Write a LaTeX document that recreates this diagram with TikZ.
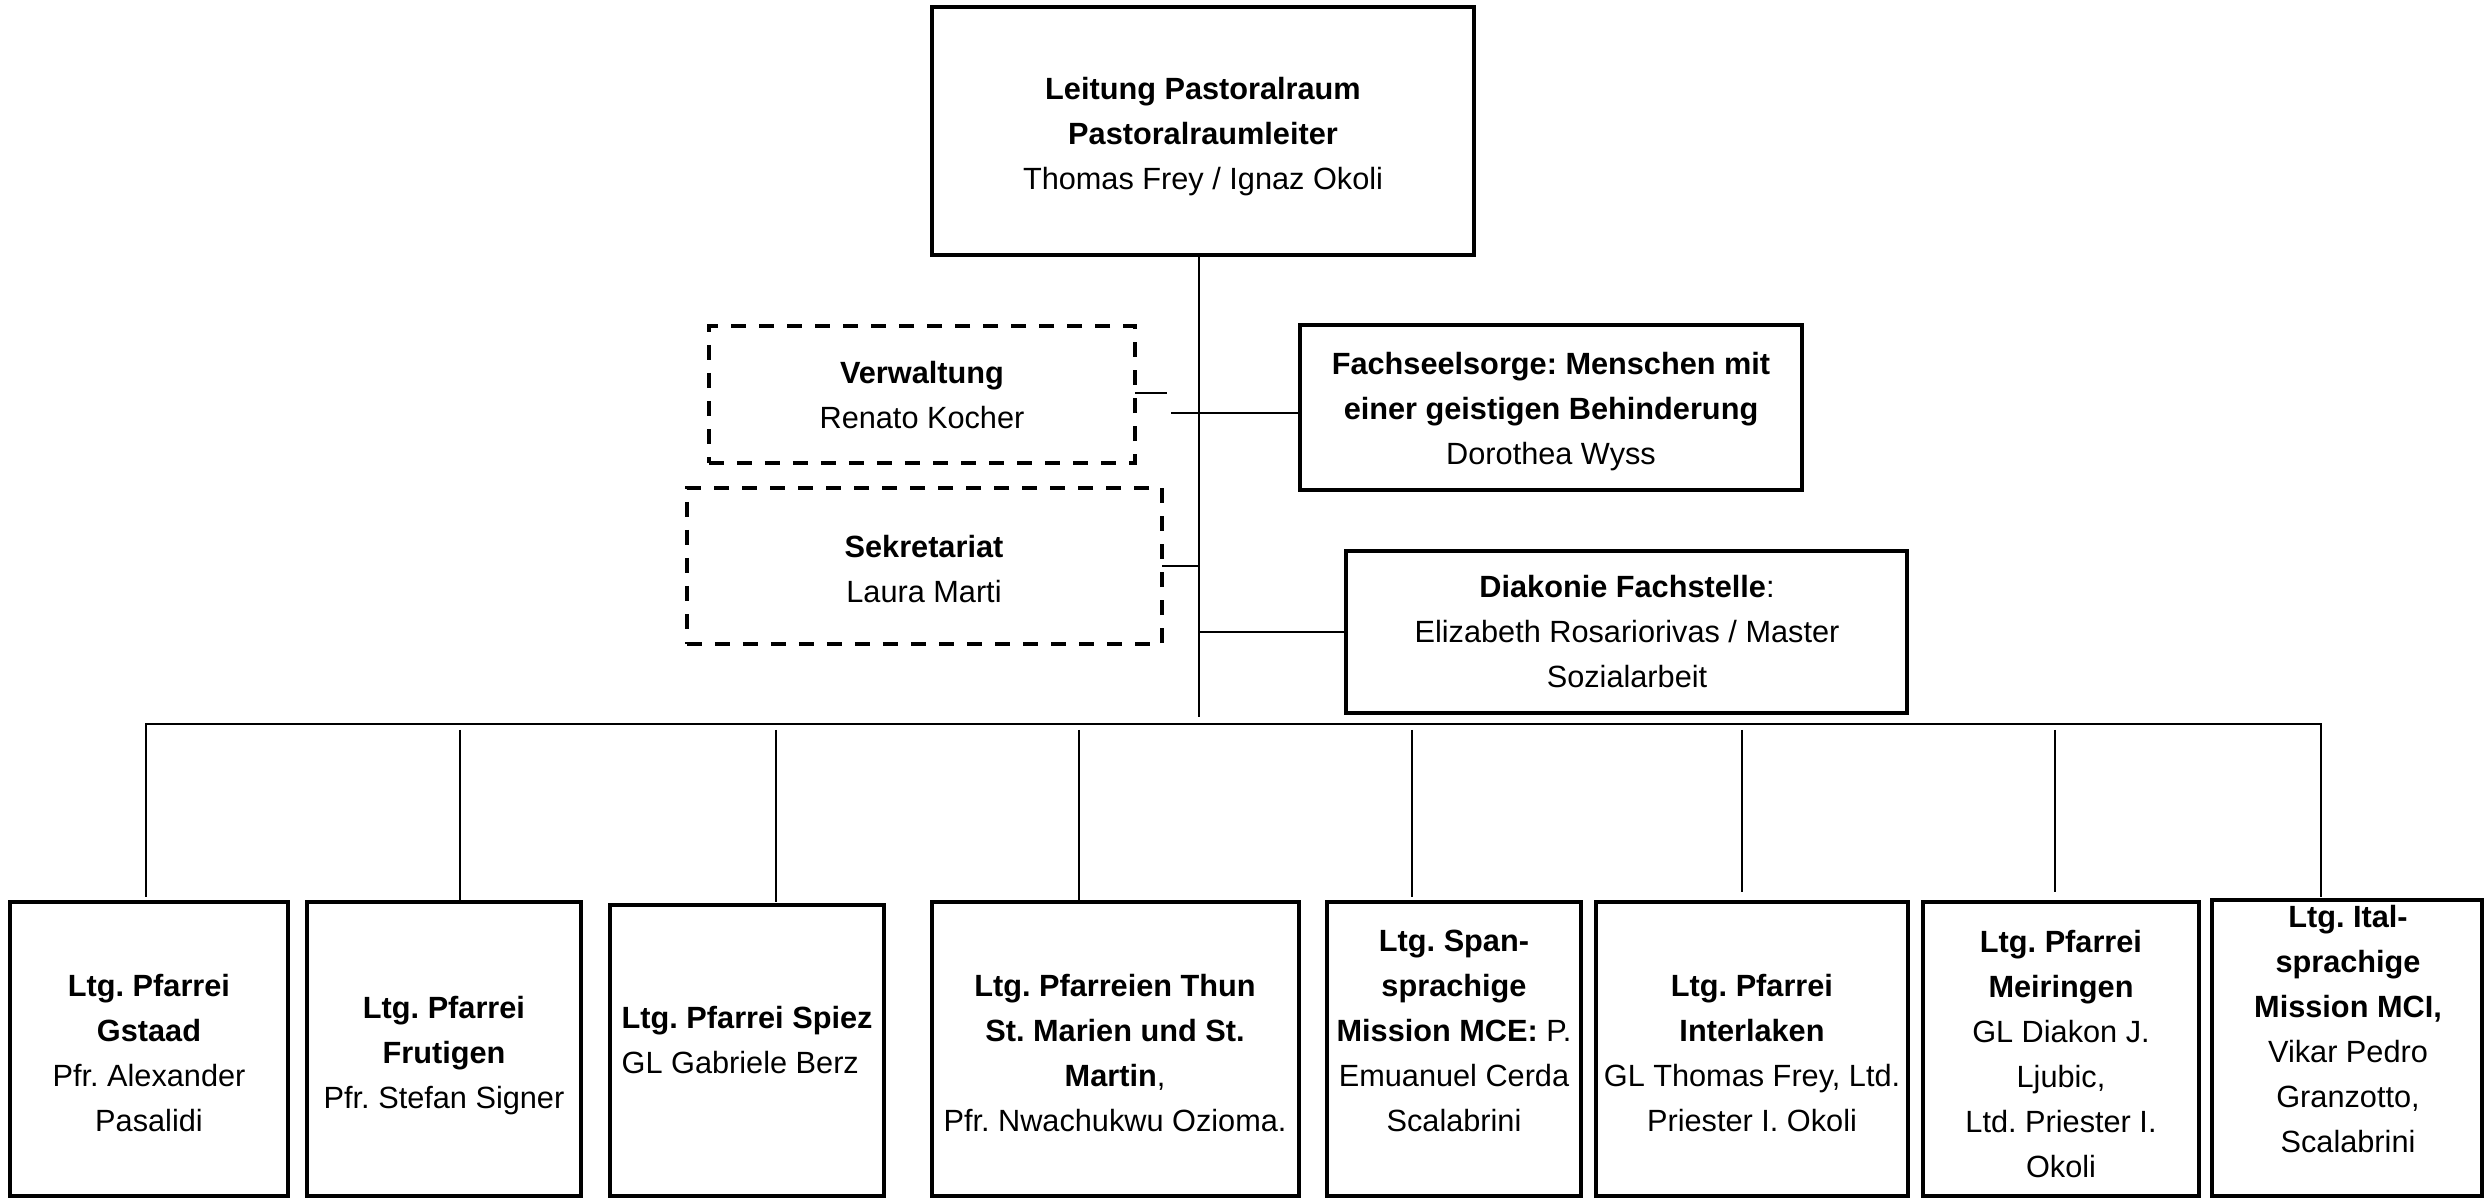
\documentclass[tikz,border=0pt]{standalone}
\usepackage{fontspec}
\setmainfont{Liberation Sans}
\frenchspacing
\begin{document}
\begin{tikzpicture}[x=0.01cm,y=-0.01cm,
  sbox/.style={draw=black, line width=0.034cm, inner sep=0pt, outer sep=0pt},
  dbox/.style={draw=black, line width=0.04cm, dash pattern=on 0.15cm off 0.13cm, inner sep=0pt, outer sep=0pt},
  conn/.style={draw=black, line width=0.022cm},
  txt/.style={font=\fontsize{8.73}{12.8}\selectfont, align=center, anchor=base, inner sep=0pt},
]
\useasboundingbox (0,0) rectangle (2484,1198);

% boxes
\node[sbox, minimum width=5.42cm, minimum height=2.48cm] (top) at (1203,131) {};
\node[dbox, minimum width=4.26cm, minimum height=1.37cm] (verw) at (922,394.5) {};
\node[sbox, minimum width=5.02cm, minimum height=1.65cm] (fach) at (1551,407.5) {};
\node[dbox, minimum width=4.75cm, minimum height=1.56cm] (sek) at (924.5,566) {};
\node[sbox, minimum width=5.61cm, minimum height=1.62cm] (diak) at (1626.5,632) {};

\node[sbox, minimum width=2.78cm, minimum height=2.94cm] (b1) at (149,1049) {};
\node[sbox, minimum width=2.74cm, minimum height=2.94cm] (b2) at (444,1049) {};
\node[sbox, minimum width=2.74cm, minimum height=2.91cm] (b3) at (747,1050.5) {};
\node[sbox, minimum width=3.67cm, minimum height=2.94cm] (b4) at (1115.5,1049) {};
\node[sbox, minimum width=2.54cm, minimum height=2.94cm] (b5) at (1454,1049) {};
\node[sbox, minimum width=3.12cm, minimum height=2.94cm] (b6) at (1752,1049) {};
\node[sbox, minimum width=2.76cm, minimum height=2.94cm] (b7) at (2061,1049) {};
\node[sbox, minimum width=2.70cm, minimum height=2.96cm] (b8) at (2347,1048) {};

% texts (anchored at the baseline of their last line)
\node[txt] (ttop) at (1203,190) {\textbf{Leitung Pastoralraum}\\\textbf{Pastoralraumleiter}\\Thomas Frey / Ignaz Okoli};
\node[txt] (tverw) at (922,429) {\textbf{Verwaltung}\\Renato Kocher};
\node[txt] (tfach) at (1551,465) {\textbf{Fachseelsorge: Menschen mit}\\\textbf{einer geistigen Behinderung}\\Dorothea Wyss};
\node[txt] (tsek) at (924,603) {\textbf{Sekretariat}\\Laura Marti};
\node[txt] (tdiak) at (1627,688) {\textbf{Diakonie Fachstelle}:\\Elizabeth Rosariorivas / Master\\Sozialarbeit};

\node[txt] (t1) at (149,1132) {\textbf{Ltg. Pfarrei}\\\textbf{Gstaad}\\Pfr. Alexander\\Pasalidi};
\node[txt] (t2) at (444,1109) {\textbf{Ltg. Pfarrei}\\\textbf{Frutigen}\\Pfr. Stefan Signer};
\node[txt, align=left, anchor=base west] (t3) at (621,1074) {\textbf{Ltg. Pfarrei Spiez}\\GL Gabriele Berz};
\node[txt] (t4) at (1115,1132) {\textbf{Ltg. Pfarreien Thun}\\\textbf{St. Marien und St.}\\\textbf{Martin},\\Pfr. Nwachukwu Ozioma.};
\node[txt] (t5) at (1454,1132) {\textbf{Ltg. Span-}\\\textbf{sprachige}\\\textbf{Mission MCE:} P.\\Emuanuel Cerda\\Scalabrini};
\node[txt] (t6) at (1752,1132) {\textbf{Ltg. Pfarrei}\\\textbf{Interlaken}\\GL Thomas Frey, Ltd.\\Priester I. Okoli};
\node[txt] (t7) at (2061,1178) {\textbf{Ltg. Pfarrei}\\\textbf{Meiringen}\\GL Diakon J.\\Ljubic,\\Ltd. Priester I.\\Okoli};
\node[txt] (t8) at (2348,1153) {\textbf{Ltg. Ital-}\\\textbf{sprachige}\\\textbf{Mission MCI,}\\Vikar Pedro\\Granzotto,\\Scalabrini};

% connectors
\coordinate (tb) at (1199,717);
\draw[conn] (top.south -| tb) -- (tb);
\coordinate (vs) at (1167,393);
\draw[conn] (verw.east |- vs) -- (vs);
\coordinate (fs) at (1171,413);
\draw[conn] (fs) -- (fach.west |- fs);
\draw[conn] (sek.east) -- (sek.east -| tb);
\draw[conn] (diak.west -| tb) -- (diak.west);

\coordinate (d1) at (146,724);
\coordinate (d2) at (460,730);
\coordinate (d3) at (776,730);
\coordinate (d4) at (1079,730);
\coordinate (d5) at (1412,730);
\coordinate (d6) at (1742,730);
\coordinate (d7) at (2055,730);
\coordinate (d8) at (2321,724);
\draw[conn, shorten <=0.05cm, shorten >=0.03cm] (b1.north -| d1) -- (d1) -- (d8) -- (b8.north -| d8);
\draw[conn] (d2) -- (b2.north -| d2);
\draw[conn, shorten >=0.03cm] (d3) -- (b3.north -| d3);
\draw[conn] (d4) -- (b4.north -| d4);
\draw[conn, shorten >=0.05cm] (d5) -- (b5.north -| d5);
\draw[conn, shorten >=0.10cm] (d6) -- (b6.north -| d6);
\draw[conn, shorten >=0.10cm] (d7) -- (b7.north -| d7);
\end{tikzpicture}
\end{document}
